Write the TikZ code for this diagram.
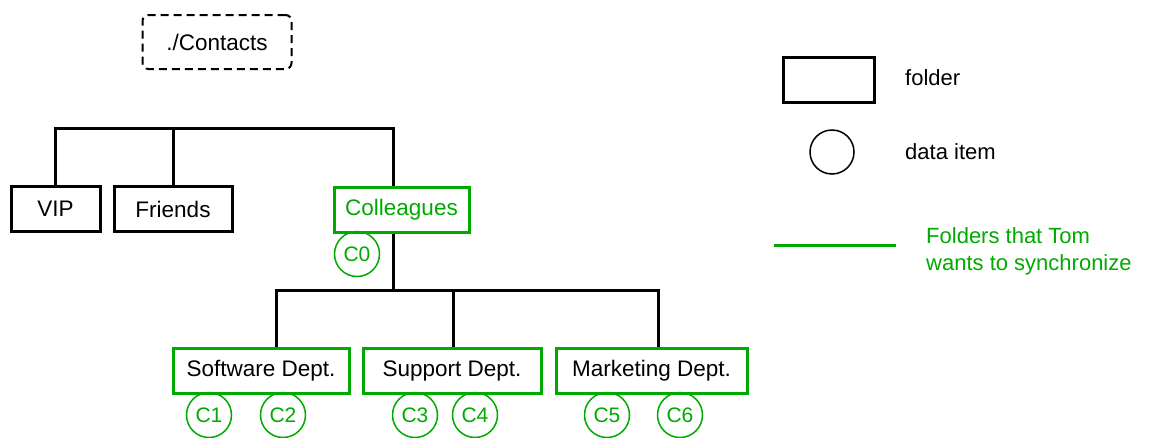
\documentclass[tikz,border=0pt]{standalone}
\usepackage{fontspec}
\setmainfont{Liberation Sans}
\usepackage{xcolor}
\definecolor{syncgreen}{RGB}{0,170,0}
\tikzset{
  folder/.style={draw,line width=3pt,minimum height=45pt,inner sep=0pt,
    font=\fontsize{22.5}{26}\selectfont},
  syncfolder/.style={folder,draw=syncgreen},
  dataitem/.style={circle,draw=syncgreen,line width=1.5pt,minimum size=45pt,
    inner sep=0pt,text=syncgreen,font=\fontsize{21}{24}\selectfont},
  label/.style={anchor=west,inner sep=0pt,font=\fontsize{22}{27}\selectfont}
}
\begin{document}
\begin{tikzpicture}[x={(1pt,0pt)},y={(0pt,-1pt)}]
\useasboundingbox (0,0) rectangle (1156,437);
% root
\node[draw,dash pattern=on 8pt off 5pt,rounded corners=6pt,line width=2pt,minimum width=149pt,
  minimum height=54pt,font=\fontsize{22.5}{26}\selectfont] (contacts) at (217,42) {./Contacts};
% first level
\node[folder,minimum width=89pt] (vip) at (55.5,209) {VIP};
\node[folder,minimum width=118pt] (friends) at (173,209) {Friends};
\node[syncfolder,minimum width=135pt,text=syncgreen] (colleagues) at (401.5,209.5) {Colleagues};
\coordinate (b0) at (393,128);
\draw[line width=3pt] (vip.north) |- (b0) -- (b0 |- colleagues.north);
\draw[line width=3pt] (friends.north) -- (friends.north |- b0);
\node[dataitem] (c0) at (357,254) {C0};
% second level
\node[syncfolder,minimum width=176pt] (software) at (261,370.5) {Software Dept.};
\node[syncfolder,minimum width=178pt] (support) at (452,370.5) {Support Dept.};
\node[syncfolder,minimum width=191pt] (marketing) at (651.5,370.5) {Marketing Dept.};
\coordinate (s1) at (276,290);
\coordinate (s2) at (453,290);
\coordinate (s3) at (658,290);
\draw[line width=3pt] (colleagues.south -| b0) -- (b0 |- s1);
\draw[line width=3pt] (s1 |- software.north) -- (s1) -- (s3) -- (s3 |- marketing.north);
\draw[line width=3pt] (s2) -- (s2 |- support.north);
\node[dataitem] (c1) at (209,415) {C1};
\node[dataitem] (c2) at (283,415) {C2};
\node[dataitem] (c3) at (415,415) {C3};
\node[dataitem] (c4) at (475,415) {C4};
\node[dataitem] (c5) at (607,415) {C5};
\node[dataitem] (c6) at (680,415) {C6};
% legend
\node[folder,minimum width=91pt] (legfolder) at (828.5,79.5) {};
\node[label] (legfoldertext) at (905,78) {folder};
\node[circle,draw,line width=1.5pt,minimum size=44pt,inner sep=0pt] (legitem) at (832,152) {};
\node[label] (legitemtext) at (905,152) {data item};
\coordinate (lg0) at (774,245);
\coordinate (lg1) at (896,245);
\draw[syncgreen,line width=3pt] (lg0) -- (lg1);
\node[label,align=left,text=syncgreen] (legsync) at (926,251.5) {Folders that Tom\\wants to synchronize};
\end{tikzpicture}
\end{document}
